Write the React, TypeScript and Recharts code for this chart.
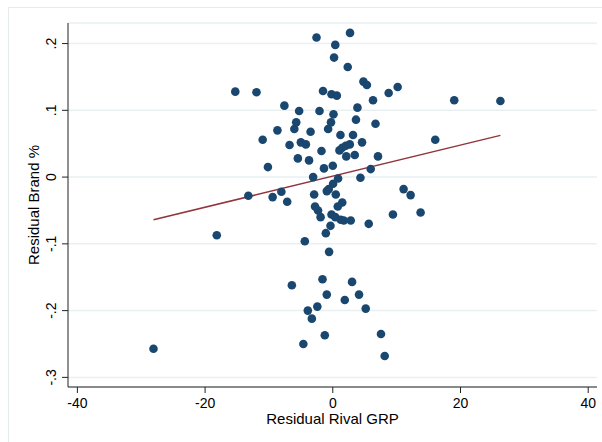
import { ScatterChart, Scatter, XAxis, YAxis, CartesianGrid } from 'recharts';

// residuals
const rivalGrp = [
  -2.55, 2.7, 0.39, 0.2, 2.34, 4.8, 5.34, -1.53, -0.2, 0.63,
  8.75, 10.16, 6.3, 19.02, 26.25, 3.86, -2.08, -5.27, 0.11, 3.63,
  -0.28, 6.69, -0.73, -3.48, 1.2, 3.17, 4.58, 2.66, 2.03, 1.48,
  1.05, -1.77, 3.44, 7.08, 2.11, -3.72, 0.0, -1.38, 5.94, -3.08,
  0.83, 4.33, 0.05, -0.63, -0.94, -2.92, 0.47, 11.09, 12.19, -2.78,
  -2.31, -1.91, 1.48, 0.78, -0.2, 0.39, 1.25, 1.72, 2.81, 9.42,
  13.75, 5.63, -0.36, -1.09, -4.38, -0.58, -1.61, -6.41, 3.02, -0.94,
  1.88, 4.11, -2.42, -3.91, 5.16, -3.28, -1.25, -4.61, 7.55, 8.13,
  -18.17, -28.08, -13.23, -9.42, -8.05, -7.14, -10.16, -5.47, -6.77, -5.0,
  -4.22, -10.98, -8.67, -6.02, -5.73, -7.58, -15.27, -11.95, 16.05,
];
const brandPct = [
  0.209, 0.216, 0.198, 0.179, 0.165, 0.143, 0.138, 0.129, 0.124, 0.122,
  0.126, 0.135, 0.115, 0.115, 0.114, 0.104, 0.099, 0.099, 0.094, 0.086,
  0.082, 0.08, 0.072, 0.068, 0.063, 0.063, 0.052, 0.049, 0.047, 0.044,
  0.04, 0.039, 0.033, 0.031, 0.031, 0.025, 0.017, 0.013, 0.012, 0.0,
  -0.002, -0.001, -0.01, -0.018, -0.021, -0.026, -0.026, -0.018, -0.027, -0.044,
  -0.05, -0.06, -0.038, -0.044, -0.056, -0.06, -0.064, -0.065, -0.065, -0.056,
  -0.053, -0.07, -0.073, -0.084, -0.096, -0.112, -0.153, -0.162, -0.157, -0.176,
  -0.184, -0.176, -0.194, -0.2, -0.197, -0.212, -0.237, -0.25, -0.235, -0.268,
  -0.087, -0.257, -0.028, -0.03, -0.022, -0.037, 0.015, 0.028, 0.048, 0.052,
  0.049, 0.056, 0.07, 0.072, 0.082, 0.107, 0.128, 0.127, 0.056,
];

// fitted line end points
const fitX = [-28.08, 26.25];
const fitY = [-0.064, 0.0625];

const xTicks = [-40, -20, 0, 20, 40];
const yTicks = [-0.3, -0.2, -0.1, 0, 0.1, 0.2];
const yTickLabels = ['-.3', '-.2', '-.1', '0', '.1', '.2'];

const points = rivalGrp.map((x, i) => ({ x, y: brandPct[i] }));
const fit = fitX.map((x, i) => ({ x, y: fitY[i] }));

const FONT = '"Liberation Sans", Arial, sans-serif';

const Dot = (props: any) => <circle cx={props.cx} cy={props.cy} r={4.3} fill="#1a476f" />;

const YTick = (props: any) => {
  const { x, y, payload } = props;
  const i = yTicks.indexOf(payload.value);
  const cx = x - 9;
  return (
    <text
      x={cx}
      y={y}
      transform={`rotate(-90, ${cx}, ${y})`}
      textAnchor="middle"
      dominantBaseline="central"
      fontSize={14}
      fontFamily={FONT}
      fill="#000"
    >
      {i >= 0 ? yTickLabels[i] : payload.value}
    </text>
  );
};

export default function App() {
  return (
    <div style={{ position: 'fixed', left: 0, top: 0, width: 602, height: 442, background: '#fff' }}>
      <div
        style={{
          position: 'absolute', left: 8, top: 7, right: 0, bottom: 0,
          borderLeft: '1px solid #e4ebed', borderTop: '1px solid #e4ebed',
        }}
      />
      <div style={{ position: 'absolute', left: 0, top: 0 }}>
        <ScatterChart width={602} height={442} margin={{ top: 23, right: 5, bottom: 10, left: 28 }}>
          <CartesianGrid vertical={false} stroke="#e8f0f2" strokeWidth={1.5} />
          <XAxis
            type="number"
            dataKey="x"
            domain={[-41.47, 41.38]}
            ticks={xTicks}
            allowDataOverflow
            height={45}
            tickSize={6}
            tickMargin={5}
            stroke="#222"
            tick={{ fill: '#000', fontSize: 14, fontFamily: FONT }}
            label={{ value: 'Residual Rival GRP', position: 'insideBottom', offset: 8, fill: '#000', fontSize: 15, fontFamily: FONT }}
          />
          <YAxis
            type="number"
            dataKey="y"
            domain={[-0.3144, 0.2308]}
            ticks={yTicks}
            allowDataOverflow
            width={40}
            tickSize={6}
            tickMargin={2}
            stroke="#222"
            tick={<YTick />}
            label={{ value: 'Residual Brand %', angle: -90, position: 'insideLeft', offset: 6, fill: '#000', fontSize: 15, fontFamily: FONT, style: { textAnchor: 'middle' } }}
          />
          <Scatter data={fit} line={{ stroke: '#90353b', strokeWidth: 1.5 }} shape={() => <g />} isAnimationActive={false} />
          <Scatter data={points} shape={<Dot />} isAnimationActive={false} />
        </ScatterChart>
      </div>
    </div>
  );
}
